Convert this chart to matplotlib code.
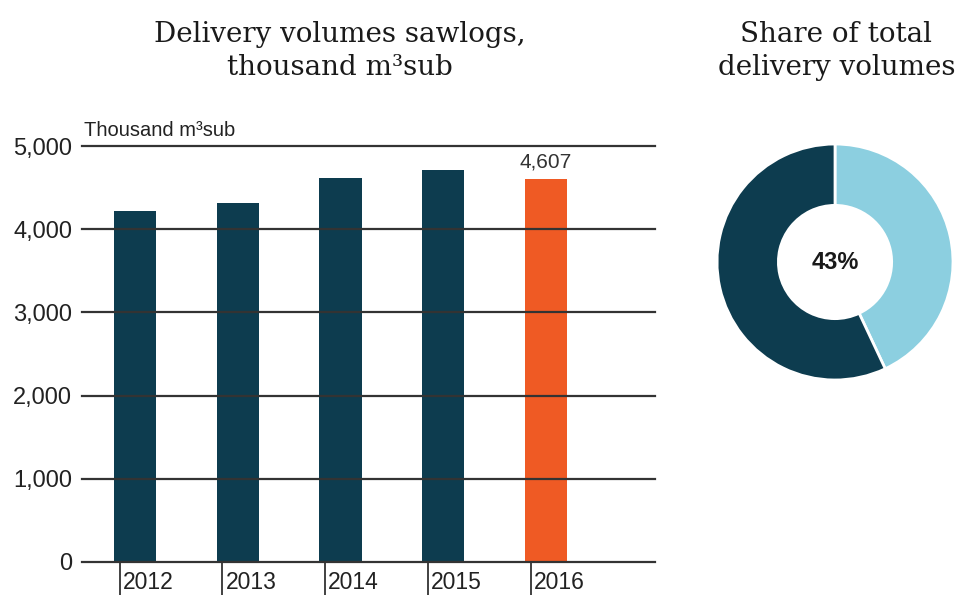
import numpy as np
import matplotlib.pyplot as plt

# data
years = ["2012", "2013", "2014", "2015", "2016"]
volumes = [4220, 4320, 4620, 4710, 4607]
share_labels = ["Sawlogs", "Other"]
share_values = [43, 57]
yticks = [0, 1000, 2000, 3000, 4000, 5000]

dark = "#0d3c4f"
orange = "#ef5a24"
light = "#8ccfe0"
grid_col = "#333333"

plt.rcParams['font.family'] = ['Liberation Sans', 'DejaVu Sans']

fig = plt.figure(figsize=(9.76, 6.01), dpi=100)

# bar chart
ax = fig.add_axes([0.084, 0.065, 0.587, 0.692])
x = np.arange(len(years))
colors = [dark] * (len(years) - 1) + [orange]
ax.bar(x, volumes, width=0.41, color=colors, zorder=2)

ax.set_ylim(0, 5000)
ax.set_xlim(-0.516, 5.06)
ax.set_yticks(yticks)
ax.set_yticklabels([f"{v:,}" for v in yticks], fontsize=17, color="#222222")
ax.tick_params(axis='y', length=0, pad=7)
for v in yticks:
    ax.axhline(v, color=grid_col, lw=1.6, zorder=3, clip_on=False)

for s in ax.spines.values():
    s.set_visible(False)

# x ticks: small vertical line left of each bar, label beside it
ax.set_xticks(x - 0.15)
ax.set_xticklabels([])
ax.tick_params(axis='x', length=24, width=1.3, color=grid_col)
for i, yr in enumerate(years):
    ax.text(i - 0.12, -0.022, yr, transform=ax.get_xaxis_transform(),
            ha='left', va='top', fontsize=16.5, color="#222222")

# value label on last bar
ax.text(x[-1], volumes[-1] + 90, f"{volumes[-1]:,}", ha='center', va='bottom',
        fontsize=15, color="#333333")

# unit label
ax.text(0.004, 1.015, "Thousand m³sub", transform=ax.transAxes, ha='left', va='bottom',
        fontsize=14.5, color="#222222")

# donut
ax2 = fig.add_axes([0.7326, 0.3644, 0.2459, 0.3993])
ax2.pie(share_values, colors=[light, dark], startangle=90, counterclock=False,
        wedgeprops=dict(width=0.52, edgecolor='white', linewidth=2))
ax2.set_xlim(-1.017, 1.017)
ax2.set_ylim(-1.017, 1.017)
ax2.set_aspect('equal')
ax2.text(0, 0, f"{share_values[0]}%", ha='center', va='center', fontsize=17,
         fontweight='bold', color="#1a1a1a")

# titles
fig.text(0.348, 0.965, "Delivery volumes sawlogs,\nthousand m³sub", ha='center', va='top',
         fontsize=20, family='DejaVu Serif', color="#1a1a1a", linespacing=1.3)
fig.text(0.857, 0.965, "Share of total\ndelivery volumes", ha='center', va='top',
         fontsize=20, family='DejaVu Serif', color="#1a1a1a", linespacing=1.3)

fig.savefig("out.png", dpi=100)
